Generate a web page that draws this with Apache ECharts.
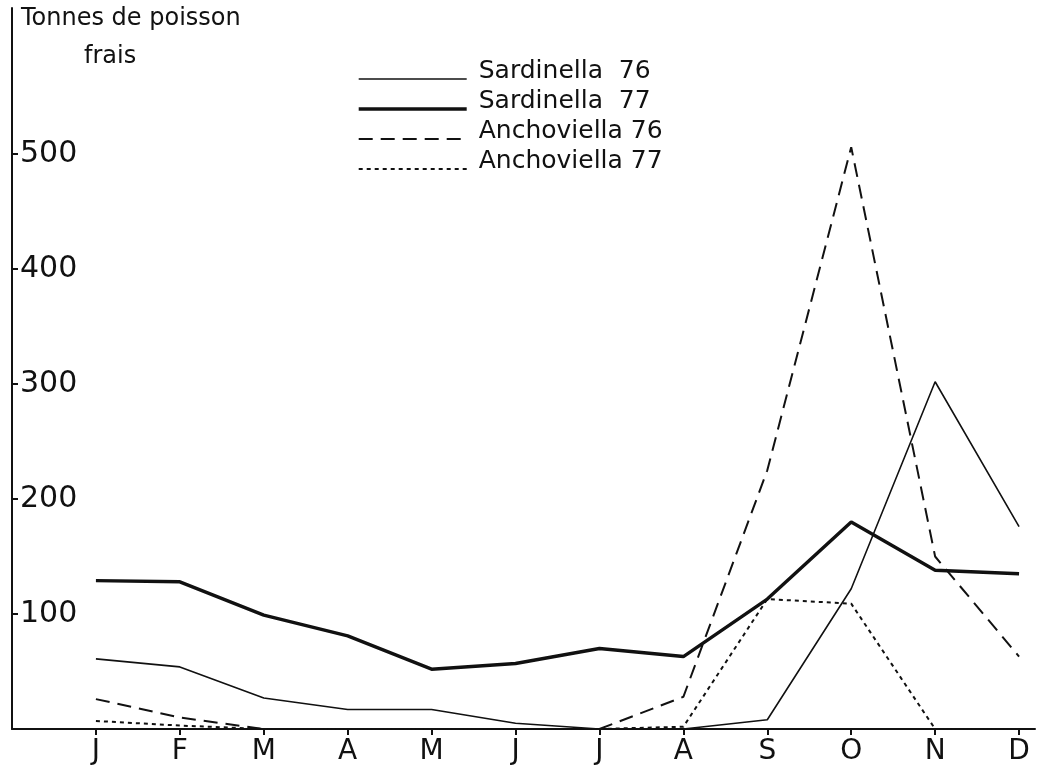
<!DOCTYPE html>
<html>
<head>
<meta charset="utf-8">
<script src="https://cdn.jsdelivr.net/npm/echarts@6/dist/echarts.min.js"></script>
<style>
  html, body { margin: 0; padding: 0; background: #fff; }
  #main { width: 1040px; height: 772px; }
</style>
</head>
<body>
<div id="main"></div>
<script>
// mois
var months = ['J', 'F', 'M', 'A', 'M', 'J', 'J', 'A', 'S', 'O', 'N', 'D'];
var yTicks = [100, 200, 300, 400, 500];

// tonnes de poisson frais
var sardinella76 = [61, 54, 27, 17, 17, 5, 0, 0, 8, 122, 302, 176];
var sardinella77 = [129, 128, 99, 81, 52, 57, 70, 63, 113, 180, 138, 135];
var anchoviella76 = [26, 10, 0, 0, 0, 0, 0, 28, 225, 506, 150, 63];
var anchoviella77 = [7, 3, 0, 0, 0, 0, 0, 2, 113, 109, 0, 0];

var seriesNames = ['Sardinella  76', 'Sardinella  77', 'Anchoviella 76', 'Anchoviella 77'];
var monthTicks = months.map(function (m, i) { return i + 1; });

function toPoints(arr) {
    return arr.map(function (v, i) { return [i + 1, v]; });
}

var chart = echarts.init(document.getElementById('main'));

var ink = '#111';
var widths = [1.6, 3.4, 2, 2];
var types = ['solid', 'solid', [14, 8], [4, 4]];

var option = {
    animation: false,
    backgroundColor: '#fff',
    textStyle: { fontFamily: 'DejaVu Sans', color: ink },
    title: [
        { text: 'Tonnes de poisson', left: 21, top: 7, padding: 0,
          textStyle: { fontSize: 24, fontWeight: 'normal', color: ink } },
        { text: 'frais', left: 84, top: 45, padding: 0,
          textStyle: { fontSize: 24, fontWeight: 'normal', color: ink } }
    ],
    legend: {
        orient: 'vertical',
        left: 357,
        top: 59,
        padding: 0,
        itemGap: 0,
        itemWidth: 108,
        itemHeight: 25,
        selectedMode: false,
        itemStyle: { opacity: 0 },
        formatter: function (name) { return '{t|' + name + '}'; },
        textStyle: {
            fontSize: 25,
            color: ink,
            rich: {
                t: { fontSize: 25, color: ink, padding: [0, 0, 15, 7] }
            }
        },
        data: seriesNames.map(function (n, i) {
            return { name: n, lineStyle: { color: ink, width: widths[i], type: types[i] } };
        })
    },
    grid: { left: 12, right: 5, top: 8, bottom: 43 },
    xAxis: {
        type: 'value',
        min: 0,
        max: 12.19,
        splitLine: { show: false },
        axisLine: { show: true, lineStyle: { color: ink, width: 2 } },
        axisTick: { show: true, length: 6, customValues: monthTicks, lineStyle: { color: ink, width: 2 } },
        axisLabel: {
            margin: 9,
            fontSize: 28,
            color: ink,
            customValues: monthTicks,
            formatter: function (v) { return months[v - 1]; }
        }
    },
    yAxis: {
        type: 'value',
        min: 0,
        max: 627,
        splitLine: { show: false },
        axisLine: { show: true, lineStyle: { color: ink, width: 2 } },
        axisTick: { show: true, inside: true, length: 6, customValues: yTicks, lineStyle: { color: ink, width: 2 } },
        axisLabel: {
            inside: true,
            margin: 8,
            fontSize: 30,
            color: ink,
            customValues: yTicks
        }
    },
    series: [
        { name: seriesNames[0], type: 'line', symbol: 'none', data: toPoints(sardinella76),
          itemStyle: { color: ink }, lineStyle: { color: ink, width: widths[0], type: types[0] } },
        { name: seriesNames[1], type: 'line', symbol: 'none', data: toPoints(sardinella77),
          itemStyle: { color: ink }, lineStyle: { color: ink, width: widths[1], type: types[1] } },
        { name: seriesNames[2], type: 'line', symbol: 'none', data: toPoints(anchoviella76),
          itemStyle: { color: ink }, lineStyle: { color: ink, width: widths[2], type: types[2] } },
        { name: seriesNames[3], type: 'line', symbol: 'none', data: toPoints(anchoviella77),
          itemStyle: { color: ink }, lineStyle: { color: ink, width: widths[3], type: types[3] } }
    ]
};

chart.setOption(option);
</script>
</body>
</html>
